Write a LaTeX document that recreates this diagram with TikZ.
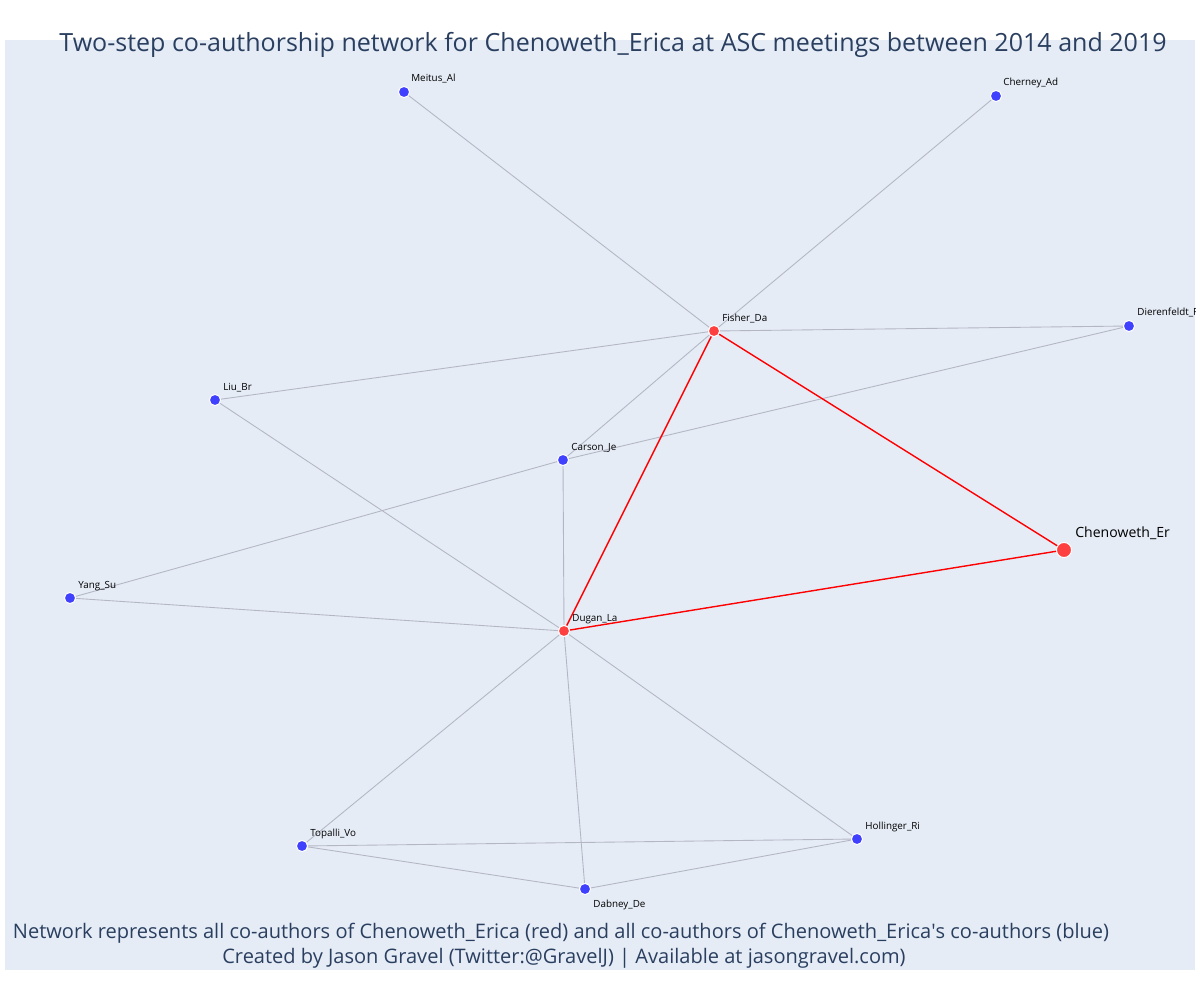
\documentclass[tikz,border=0pt]{standalone}
\usepackage{fontspec}
\setmainfont{Open Sans}
\usepackage{tikz}
\usetikzlibrary{positioning}
\definecolor{plotbg}{HTML}{E5ECF6}
\definecolor{titleblue}{HTML}{2A3F5F}
\definecolor{edgegray}{HTML}{B4B6C4}
\definecolor{authblue}{HTML}{4040FF}
\definecolor{authred}{HTML}{FF4040}

\begin{document}
\begin{tikzpicture}[x=0.02cm, y=-0.02cm]
      \tikzset{
	  coauthor/.style={circle, fill=authblue, draw=white, line width=0.6pt, inner sep=0pt, minimum size=6.4pt},
	  direct/.style={circle, fill=authred, draw=white, line width=0.6pt, inner sep=0pt, minimum size=6.4pt},
	  focal/.style={circle, fill=authred, draw=white, line width=0.6pt, inner sep=0pt, minimum size=8.6pt},
	  link/.style={draw=edgegray, line width=0.5pt},
	  redlink/.style={draw=red, line width=0.8pt},
	  authlabel/.style={anchor=base west, font=\fontsize{5.6}{6}\selectfont, inner sep=0pt},
	  caption/.style={anchor=base, text=titleblue, font=\fontsize{11.4}{13}\selectfont, inner sep=0pt},
      }
      % page and plot area
      \fill[white] (0,0) rectangle (1200,1000);
      \fill[plotbg] (5,40) rectangle (1195,970);

      % authors
      \node (meitus) at (404,92) [coauthor] {};
      \node (cherney) at (996,96) [coauthor] {};
      \node (fisher) at (714,331) [direct] {};
      \node (dieren) at (1129,326) [coauthor] {};
      \node (liu) at (215,400) [coauthor] {};
      \node (carson) at (563,460) [coauthor] {};
      \node (chen) at (1064,550) [focal] {};
      \node (yang) at (70,598) [coauthor] {};
      \node (dugan) at (564,631) [direct] {};
      \node (topalli) at (302,846) [coauthor] {};
      \node (hollinger) at (857,839) [coauthor] {};
      \node (dabney) at (585,889) [coauthor] {};

      % co-authorship links
      \draw[link] (meitus) -- (fisher);
      \draw[link] (cherney) -- (fisher);
      \draw[link] (fisher) -- (dieren);
      \draw[link] (fisher) -- (liu);
      \draw[link] (fisher) -- (carson);
      \draw[link] (carson) -- (dieren);
      \draw[link] (liu) -- (dugan);
      \draw[link] (carson) -- (yang);
      \draw[link] (carson) -- (dugan);
      \draw[link] (yang) -- (dugan);
      \draw[link] (dugan) -- (topalli);
      \draw[link] (dugan) -- (dabney);
      \draw[link] (dugan) -- (hollinger);
      \draw[link] (topalli) -- (hollinger);
      \draw[link] (topalli) -- (dabney);
      \draw[link] (dabney) -- (hollinger);
      \draw[redlink] (fisher) -- (dugan);
      \draw[redlink] (fisher) -- (chen);
      \draw[redlink] (dugan) -- (chen);

      % labels
      \begin{scope}
	\clip (5,40) rectangle (1195,970);
	\node[authlabel] (lmeitus) at (411,82) {Meitus\_Al};
	\node[authlabel] (lcherney) at (1003,86) {Cherney\_Ad};
	\node[authlabel] (lfisher) at (722,321) {Fisher\_Da};
	\node[authlabel] (ldieren) at (1137,316) {Dierenfeldt\_R};
	\node[authlabel] (lliu) at (223,390) {Liu\_Br};
	\node[authlabel] (lcarson) at (571,450) {Carson\_Je};
	\node[authlabel] (lyang) at (78,588) {Yang\_Su};
	\node[authlabel] (ldugan) at (572,621) {Dugan\_La};
	\node[authlabel] (ltopalli) at (310,836) {Topalli\_Vo};
	\node[authlabel] (lhollinger) at (865,829) {Hollinger\_Ri};
	\node[authlabel] (ldabney) at (593,907) {Dabney\_De};
	\node[authlabel, font=\fontsize{8}{9}\selectfont] (lchen) at (1075,537) {Chenoweth\_Er};
      \end{scope}

      % title and notes
      \node (title) at (613,52) [caption, font=\fontsize{14.25}{16}\selectfont] {Two-step co-authorship network for Chenoweth\_Erica at ASC meetings between 2014 and 2019};
      \node (note) at (561,938) [caption] {Network represents all co-authors of Chenoweth\_Erica (red) and all co-authors of Chenoweth\_Erica\textquotesingle s co-authors (blue)};
      \node (credit) at (564,963) [caption] {Created by Jason Gravel (Twitter:@GravelJ) | Available at jasongravel.com)};
    \end{tikzpicture}
\end{document}
